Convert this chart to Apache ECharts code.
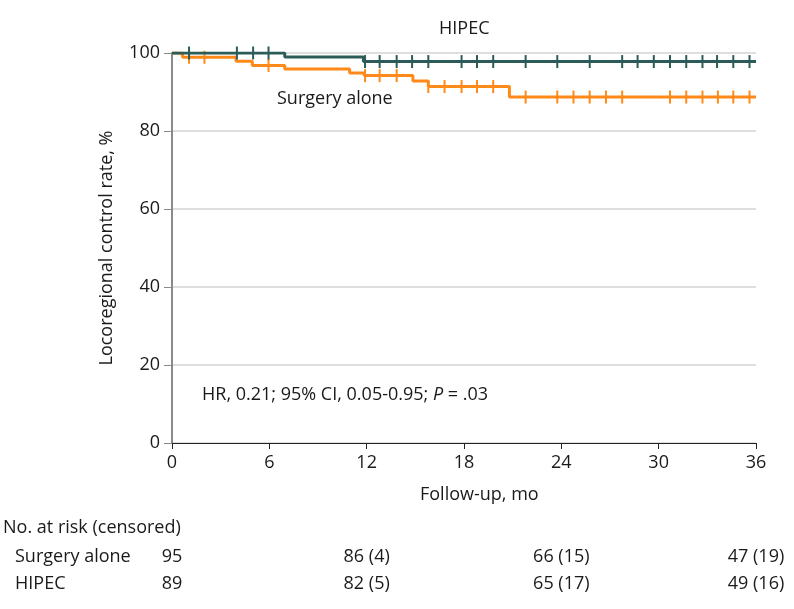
<!DOCTYPE html>
<html>
<head>
<meta charset="utf-8">
<script src="https://cdn.jsdelivr.net/npm/echarts@6/dist/echarts.min.js"></script>
<style>
  html, body { margin: 0; padding: 0; background: #fff; }
  #chart { width: 794px; height: 609px; }
</style>
</head>
<body>
<div id="chart"></div>
<script>
// Kaplan-Meier steps (months, %)
const surgeryTimes = [0, 0.65, 3.95, 4.95, 6.95, 10.95, 11.85, 14.85, 15.8, 20.8, 36];
const surgeryRates = [100, 98.9, 97.9, 96.8, 95.9, 94.9, 94.2, 92.8, 91.4, 88.7, 88.7];
const hipecTimes = [0, 6.95, 11.8, 36];
const hipecRates = [100, 99.0, 97.8, 97.8];

// censoring marks (months)
const surgeryCensored = [1.05, 2.0, 5.95, 11.9, 12.8, 13.85, 15.8, 16.8, 17.85, 18.8, 19.8,
  21.8, 23.75, 24.75, 25.75, 26.75, 27.75, 30.7, 31.7, 32.7, 33.65, 34.6, 35.6];
const hipecCensored = [1.05, 4.0, 5.0, 5.95, 11.9, 12.8, 13.85, 14.8, 15.8, 17.85, 18.8, 19.8,
  21.8, 23.75, 25.75, 27.75, 28.7, 29.7, 30.7, 31.7, 32.7, 33.6, 34.6, 35.6];

// number at risk table
const riskTimes = [0, 12, 24, 36];
const riskGroups = ["Surgery alone", "HIPEC"];
const surgeryAtRisk = ["95", "86 (4)", "66 (15)", "47 (19)"];
const hipecAtRisk = ["89", "82 (5)", "65 (17)", "49 (16)"];

const green = "#2c5c58";
const orange = "#ff8a1a";
const font = "Open Sans";
const ink = "#1a1a1a";

function levelAt(times, rates, t) {
  let v = rates[0];
  times.forEach((time, i) => { if (time <= t) v = rates[i]; });
  return v;
}

function stepSeries(name, times, rates, color, z) {
  return {
    name,
    type: "line",
    step: "end",
    showSymbol: false,
    z,
    lineStyle: { width: 3, color },
    data: times.map((t, i) => [t, rates[i]]),
  };
}

function censorSeries(name, marks, times, rates, color, z) {
  return {
    name,
    type: "scatter",
    symbol: "rect",
    symbolSize: [2, 13],
    z,
    itemStyle: { color, opacity: 1 },
    data: marks.map((t) => [t, levelAt(times, rates, t)]),
  };
}

function riskSeries(values, row) {
  return {
    type: "scatter",
    xAxisIndex: 1,
    yAxisIndex: 1,
    symbolSize: 0,
    itemStyle: { opacity: 1 },
    label: {
      show: true,
      position: "inside",
      formatter: (p) => p.data[2],
      color: ink,
      opacity: 1,
      fontFamily: font,
      fontSize: 18,
    },
    data: riskTimes.map((t, i) => [t, row, values[i]]),
  };
}

const chart = echarts.init(document.getElementById("chart"));
chart.setOption({
  animation: false,
  textStyle: { fontFamily: font },
  grid: [
    { left: 172, right: 38, top: 53, bottom: 166 },
    { left: 172, right: 38, top: 543, height: 54 },
  ],
  xAxis: [
    {
      type: "value",
      min: 0,
      max: 36,
      interval: 6,
      axisLine: { lineStyle: { color: "#222", width: 1 } },
      axisTick: { show: true, length: 6, lineStyle: { color: "#222" } },
      axisLabel: { color: ink, fontSize: 18, margin: 11 },
      splitLine: { show: false },
    },
    {
      type: "value",
      gridIndex: 1,
      min: 0,
      max: 36,
      show: false,
    },
  ],
  yAxis: [
    {
      type: "value",
      min: 0,
      max: 100,
      interval: 20,
      name: "Locoregional control rate, %",
      nameLocation: "middle",
      nameGap: 56,
      nameTextStyle: { color: ink, fontSize: 18 },
      axisLine: { show: true, lineStyle: { color: "#8a8a8a", width: 2 } },
      axisTick: { show: true, length: 8, lineStyle: { color: "#8a8a8a" } },
      axisLabel: { color: ink, fontSize: 18, margin: 12 },
      splitLine: { lineStyle: { color: "#dedede", width: 2 } },
    },
    {
      type: "category",
      gridIndex: 1,
      data: riskGroups,
      inverse: true,
      axisLine: { show: false },
      axisTick: { show: false },
      axisLabel: { align: "left", margin: 157, color: ink, fontSize: 18 },
    },
  ],
  graphic: [
    {
      type: "text", left: 420, top: 486,
      style: { text: "Follow-up, mo", fontFamily: font, fontSize: 18, fill: ink },
    },
    {
      type: "text", left: 3, top: 519,
      style: { text: "No. at risk (censored)", fontFamily: font, fontSize: 18, fill: ink },
    },
    {
      type: "text", left: 439, top: 20,
      style: { text: "HIPEC", fontFamily: font, fontSize: 18, fill: ink },
    },
    {
      type: "text", left: 277, top: 90,
      style: { text: "Surgery alone", fontFamily: font, fontSize: 18, fill: ink },
    },
    {
      type: "text", left: 202, top: 386,
      style: {
        text: "HR, 0.21; 95% CI, 0.05-0.95; {i|P} = .03",
        fontFamily: font,
        fontSize: 18,
        fill: ink,
        rich: { i: { fontStyle: "italic", fontFamily: font, fontSize: 18, fill: ink } },
      },
    },
  ],
  series: [
    stepSeries("Surgery alone", surgeryTimes, surgeryRates, orange, 2),
    censorSeries("Surgery alone censored", surgeryCensored, surgeryTimes, surgeryRates, orange, 3),
    stepSeries("HIPEC", hipecTimes, hipecRates, green, 4),
    censorSeries("HIPEC censored", hipecCensored, hipecTimes, hipecRates, green, 5),
    riskSeries(surgeryAtRisk, 0),
    riskSeries(hipecAtRisk, 1),
  ],
});
</script>
</body>
</html>
